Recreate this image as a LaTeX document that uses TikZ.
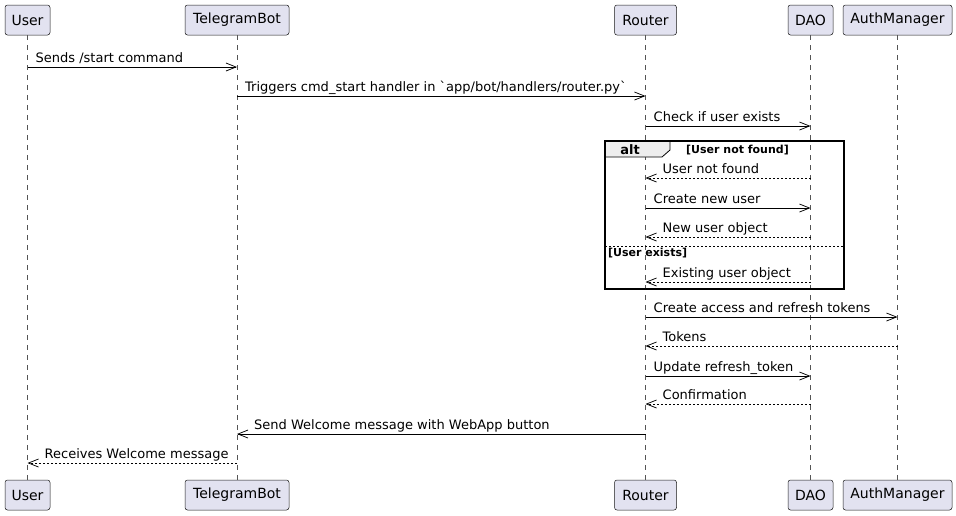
\documentclass[tikz,border=0pt]{standalone}
\usepackage{fontspec}
\setmainfont{DejaVu Sans}[Ligatures=TeXOff]
\usetikzlibrary{arrows.meta,calc}
\definecolor{partfill}{HTML}{E2E2F0}
\definecolor{partdraw}{HTML}{181818}
\definecolor{lifecol}{HTML}{555555}
\definecolor{altfill}{HTML}{EEEEEE}
\tikzset{
  part/.style={draw=partdraw,fill=partfill,rounded corners=2.5pt,line width=0.5pt,
    minimum height=30pt,inner sep=0pt,font=\fontsize{14}{16}\selectfont},
  life/.style={draw=lifecol,line width=0.5pt,dash pattern=on 5pt off 5pt},
  msg/.style={line width=0.75pt,-{Straight Barb[length=10pt,width=8pt,line width=0.75pt]}},
  ret/.style={msg,dash pattern=on 2pt off 2pt},
  lbl/.style={inner sep=0pt,anchor=base west,font=\fontsize{13}{15}\selectfont},
  altlbl/.style={inner sep=0pt,anchor=base west,font=\bfseries\fontsize{11}{13}\selectfont},
}
\begin{document}
\begin{tikzpicture}[x=1pt,y=-1pt]
\useasboundingbox (0,0) rectangle (956,515);
% participants top
\node[part,minimum width=45pt] (U) at (27.5,20) {User};
\node[part,minimum width=104pt] (T) at (237,20) {TelegramBot};
\node[part,minimum width=62pt] (R) at (645.5,20) {Router};
\node[part,minimum width=45pt] (D) at (810.5,20) {DAO};
\node[part,minimum width=109pt] (A) at (897.5,20) {AuthManager};
% participants bottom
\node[part,minimum width=45pt] (Ub) at (27.5,495) {User};
\node[part,minimum width=104pt] (Tb) at (237,495) {TelegramBot};
\node[part,minimum width=62pt] (Rb) at (645.5,495) {Router};
\node[part,minimum width=45pt] (Db) at (810.5,495) {DAO};
\node[part,minimum width=109pt] (Ab) at (897.5,495) {AuthManager};
% lifelines
\foreach \a/\b in {U/Ub,T/Tb,R/Rb,D/Db,A/Ab} \draw[life] (\a.south) -- (\b.north);
% alt frame
\coordinate (altNW) at (605,141);
\coordinate (altSE) at (844,289);
\fill[altfill] (605,141) -- (670,141) -- (670,150) -- (662,157) -- (605,157) -- cycle;
\draw[line width=0.8pt] (605,157) -- (662,157) -- (670,150) -- (670,141);
\draw[line width=1.5pt] (altNW) rectangle (altSE);
\node[inner sep=0pt,font=\bfseries\fontsize{13}{15}\selectfont] (altname) at (630,149.5) {alt};
\node[altlbl] (g1) at (686,153) {[User not found]};
\draw[line width=0.6pt,dash pattern=on 2pt off 2pt] (605,246) -- (844,246);
\node[altlbl] (g2) at (608,256) {[User exists]};
% messages
\newcommand\rmsg[4]{% from, to, y, text (left-to-right)
  \draw[msg] (#1.south |- 0,#3) -- (#2.south |- 0,#3);
  \node[lbl] at ($(#1.south |- 0,#3)+(8,-5)$) {#4};}
\newcommand\lret[5]{% from, to, y, text, style (right-to-left)
  \draw[#5] (#1.south |- 0,#3) -- (#2.south |- 0,#3);
  \node[lbl] at ($(#2.south |- 0,#3)+(17,-5)$) {#4};}
\rmsg{U}{T}{67}{Sends /start command}
\rmsg{T}{R}{96}{Triggers cmd\_start handler in `app/bot/handlers/router.py`}
\rmsg{R}{D}{126}{Check if user exists}
\lret{D}{R}{178}{User not found}{ret}
\rmsg{R}{D}{208}{Create new user}
\lret{D}{R}{237}{New user object}{ret}
\lret{D}{R}{282}{Existing user object}{ret}
\rmsg{R}{A}{317}{Create access and refresh tokens}
\lret{A}{R}{346}{Tokens}{ret}
\rmsg{R}{D}{376}{Update refresh\_token}
\lret{D}{R}{404}{Confirmation}{ret}
\lret{R}{T}{434}{Send Welcome message with WebApp button}{msg}
\lret{T}{U}{463}{Receives Welcome message}{ret}
\end{tikzpicture}
\end{document}
